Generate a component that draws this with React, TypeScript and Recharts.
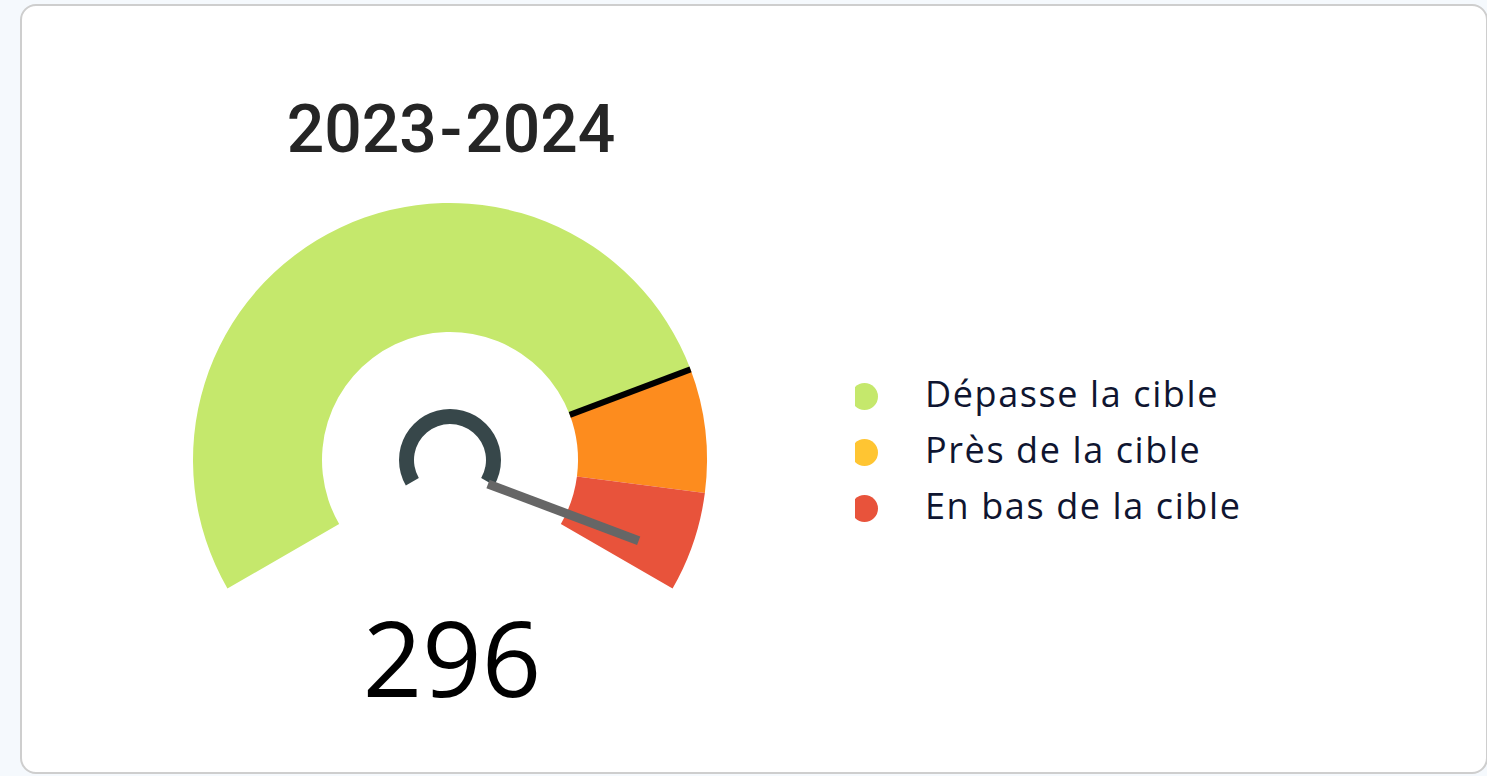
import React from "react";
import { PieChart, Pie, Cell, Legend } from "recharts";

const periodStart = "2023";
const periodEnd = "2024";
const segmentNames = ["Dépasse la cible", "Près de la cible", "En bas de la cible"];
const segmentValues = [243, 36, 29];
const arcColors = ["#c5e86c", "#fd8c1e", "#e8533b"];
const legendColors = ["#c5e86c", "#ffc532", "#e8533b"];
const gaugeMax = 308;
const targetValue = 243;
const currentValue = 296;

const RADIAN = Math.PI / 180;
const START_ANGLE = 210;
const END_ANGLE = -30;
const CX = 450;
const CY = 460;

const gaugeData = segmentNames.map((name, i) => ({ name, value: segmentValues[i] }));
const targetData = [
  { name: "cible", value: targetValue },
  { name: "reste", value: gaugeMax - targetValue },
];
const needleData = [
  { name: "valeur", value: currentValue },
  { name: "reste", value: gaugeMax - currentValue },
];
const hubData = [{ name: "hub", value: gaugeMax }];

function polar(cx: number, cy: number, r: number, angle: number) {
  return {
    x: cx + r * Math.cos(-angle * RADIAN),
    y: cy + r * Math.sin(-angle * RADIAN),
  };
}

const TargetMark = (props: any) => {
  if (props.index !== 0) return null;
  const { cx, cy, endAngle, innerRadius, outerRadius } = props;
  const a = polar(cx, cy, innerRadius, endAngle);
  const b = polar(cx, cy, outerRadius, endAngle);
  return <line x1={a.x} y1={a.y} x2={b.x} y2={b.y} stroke="#000" strokeWidth={6} />;
};

const Needle = (props: any) => {
  if (props.index !== 0) return null;
  const { cx, cy, endAngle, innerRadius, outerRadius } = props;
  // needle sits a little below the hub centre, like the original
  const off = polar(0, 0, 9, endAngle - 90);
  const a = polar(cx, cy, innerRadius, endAngle);
  const b = polar(cx, cy, outerRadius, endAngle);
  return (
    <line
      x1={a.x + off.x}
      y1={a.y + off.y}
      x2={b.x + off.x}
      y2={b.y + off.y}
      stroke="#666666"
      strokeWidth={9}
    />
  );
};

const GaugeLegend = () => (
  <div style={{ fontFamily: "'Open Sans', sans-serif" }}>
    {segmentNames.map((name, i) => (
      <div key={name} style={{ display: "flex", alignItems: "center", height: 56 }}>
        <div style={{ width: 23, height: 27, overflow: "hidden", marginTop: 4 }}>
          <div
            style={{
              width: 27,
              height: 27,
              borderRadius: "50%",
              background: legendColors[i],
              marginLeft: -4,
            }}
          />
        </div>
        <span
          style={{
            marginLeft: 47,
            fontSize: 36,
            lineHeight: "56px",
            letterSpacing: 1.6,
            color: "#0f1530",
            whiteSpace: "nowrap",
          }}
        >
          {name}
        </span>
      </div>
    ))}
  </div>
);

export default function App() {
  return (
    <div
      style={{
        position: "absolute",
        left: 0,
        top: 0,
        width: 1487,
        height: 776,
        background: "#f5f9fd",
        overflow: "hidden",
      }}
    >
      <div
        style={{
          position: "absolute",
          left: 20,
          top: 4,
          width: 1468,
          height: 770,
          boxSizing: "border-box",
          border: "2px solid #cecece",
          borderRadius: 16,
          background: "#fff",
        }}
      />
      <div style={{ position: "absolute", left: 0, top: 0 }}>
        <PieChart width={1487} height={776} margin={{ top: 0, right: 0, bottom: 0, left: 0 }}>
          <Pie
            data={gaugeData}
            dataKey="value"
            cx={CX}
            cy={CY}
            startAngle={START_ANGLE}
            endAngle={END_ANGLE}
            innerRadius={128}
            outerRadius={257}
            stroke="none"
            isAnimationActive={false}
          >
            {gaugeData.map((d, i) => (
              <Cell key={d.name} fill={arcColors[i]} stroke="none" />
            ))}
          </Pie>
          <Pie
            data={targetData}
            dataKey="value"
            cx={CX}
            cy={CY}
            startAngle={START_ANGLE}
            endAngle={END_ANGLE}
            innerRadius={128}
            outerRadius={257}
            fill="none"
            stroke="none"
            label={TargetMark}
            labelLine={false}
            isAnimationActive={false}
          />
          <Pie
            data={needleData}
            dataKey="value"
            cx={CX}
            cy={CY}
            startAngle={START_ANGLE}
            endAngle={END_ANGLE}
            innerRadius={44}
            outerRadius={205}
            fill="none"
            stroke="none"
            label={Needle}
            labelLine={false}
            isAnimationActive={false}
          />
          <Pie
            data={hubData}
            dataKey="value"
            cx={CX}
            cy={CY}
            startAngle={START_ANGLE}
            endAngle={END_ANGLE}
            innerRadius={36}
            outerRadius={51}
            fill="#37474a"
            stroke="none"
            isAnimationActive={false}
          />
          <Legend
            content={GaugeLegend}
            wrapperStyle={{ left: 855, top: 366, width: 460 }}
          />
        </PieChart>
      </div>
      <svg
        width={1487}
        height={776}
        style={{ position: "absolute", left: 0, top: 0, pointerEvents: "none" }}
      >
        <text
          x={451}
          y={152}
          textAnchor="middle"
          fontFamily="Roboto, sans-serif"
          fontWeight={500}
          fontSize={66}
          fill="#252525"
        >
          <tspan>{periodStart}</tspan>
          <tspan dx={3}>-</tspan>
          <tspan dx={3}>{periodEnd}</tspan>
        </text>
        <text
          x={452}
          y={697}
          textAnchor="middle"
          fontFamily="'Open Sans', sans-serif"
          fontSize={104}
          fill="#000"
        >
          {currentValue}
        </text>
      </svg>
    </div>
  );
}
